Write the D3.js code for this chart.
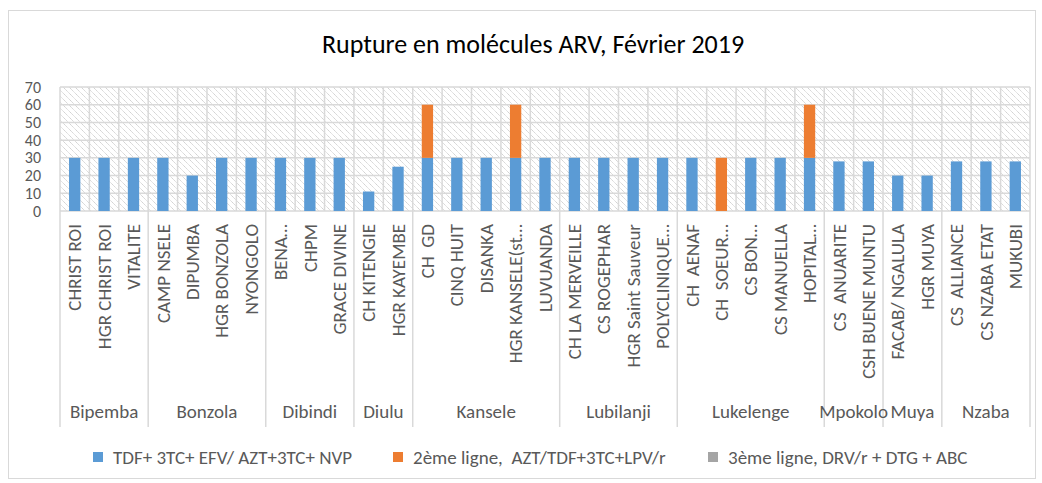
<!DOCTYPE html>
<html>
<head>
<meta charset="utf-8">
<script src="https://cdn.jsdelivr.net/npm/d3@7"></script>
<style>
  html, body { margin: 0; padding: 0; background: #fff; }
  svg { display: block; font-family: Carlito, Lato, "Liberation Sans", sans-serif; }
  svg text { white-space: pre; }
</style>
</head>
<body>
<svg id="chart" width="1042" height="483"></svg>
<script>
const title = "Rupture en molécules ARV, Février 2019";
const categories = [
  "CHRIST ROI", "HGR CHRIST ROI", "VITALITE",
  "CAMP NSELE", "DIPUMBA", "HGR BONZOLA", "NYONGOLO",
  "BENA…", "CHPM", "GRACE DIVINE",
  "CH KITENGIE", "HGR KAYEMBE",
  "CH  GD", "CINQ HUIT", "DISANKA", "HGR KANSELE(st…", "LUVUANDA",
  "CH LA MERVEILLE", "CS ROGEPHAR", "HGR Saint Sauveur", "POLYCLINIQUE…",
  "CH  AENAF", "CH  SOEUR…", "CS BON…", "CS MANUELLA", "HOPITAL…",
  "CS  ANUARITE", "CSH BUENE MUNTU",
  "FACAB/ NGALULA", "HGR MUYA",
  "CS  ALLIANCE", "CS NZABA ETAT", "MUKUBI"
];
const categoryGroups = [
  "Bipemba", "Bipemba", "Bipemba",
  "Bonzola", "Bonzola", "Bonzola", "Bonzola",
  "Dibindi", "Dibindi", "Dibindi",
  "Diulu", "Diulu",
  "Kansele", "Kansele", "Kansele", "Kansele", "Kansele",
  "Lubilanji", "Lubilanji", "Lubilanji", "Lubilanji",
  "Lukelenge", "Lukelenge", "Lukelenge", "Lukelenge", "Lukelenge",
  "Mpokolo", "Mpokolo",
  "Muya", "Muya",
  "Nzaba", "Nzaba", "Nzaba"
];
const seriesNames = [
  "TDF+ 3TC+ EFV/ AZT+3TC+ NVP",
  "2ème ligne,  AZT/TDF+3TC+LPV/r",
  "3ème ligne, DRV/r + DTG + ABC"
];
const firstLine = [30, 30, 30, 30, 20, 30, 30, 30, 30, 30, 11, 25, 30, 30, 30, 30, 30, 30, 30, 30, 30, 30, 0, 30, 30, 30, 28, 28, 20, 20, 28, 28, 28];
const secondLine = [0, 0, 0, 0, 0, 0, 0, 0, 0, 0, 0, 0, 30, 0, 0, 30, 0, 0, 0, 0, 0, 0, 30, 0, 0, 30, 0, 0, 0, 0, 0, 0, 0];
const thirdLine = [0, 0, 0, 0, 0, 0, 0, 0, 0, 0, 0, 0, 0, 0, 0, 0, 0, 0, 0, 0, 0, 0, 0, 0, 0, 0, 0, 0, 0, 0, 0, 0, 0];
const yTicks = [0, 10, 20, 30, 40, 50, 60, 70];
const colors = ["#5b9bd5", "#ed7d31", "#a5a5a5"];

const svg = d3.select("#chart");
const plot = { left: 60, right: 1030, top: 87, bottom: 211 };

// outer border
svg.append("rect").attr("x", 8.5).attr("y", 10.5).attr("width", 1027).attr("height", 468)
  .attr("fill", "#fff").attr("stroke", "#d9d9d9").attr("stroke-width", 1);

// title
svg.append("text").attr("x", 533).attr("y", 53).attr("text-anchor", "middle")
  .attr("font-size", 26).attr("fill", "#000").text(title);

// hatch pattern
const defs = svg.append("defs");
const pat = defs.append("pattern").attr("id", "hatch").attr("patternUnits", "userSpaceOnUse")
  .attr("width", 6).attr("height", 6);
pat.append("rect").attr("width", 6).attr("height", 6).attr("fill", "#fff");
pat.append("path").attr("d", "M-1,-1 L7,7 M-1,5 L1,7 M5,-1 L7,1")
  .attr("stroke", "#cccccc").attr("stroke-width", 1).attr("stroke-dasharray", "1.2,0.6");

const idx = categories.map((d, i) => i);
const x = d3.scaleBand().domain(idx).range([plot.left, plot.right]).paddingInner(0).paddingOuter(0);
const y = d3.scaleLinear().domain([0, 70]).range([plot.bottom, plot.top]);

svg.append("rect").attr("x", plot.left).attr("y", plot.top)
  .attr("width", plot.right - plot.left).attr("height", plot.bottom - plot.top)
  .attr("fill", "url(#hatch)");

// horizontal gridlines
svg.append("g").selectAll("line").data(yTicks).join("line")
  .attr("x1", plot.left).attr("x2", plot.right)
  .attr("y1", d => y(d)).attr("y2", d => y(d))
  .attr("stroke", "#d9d9d9").attr("stroke-width", 1.5);
// vertical gridlines (category boundaries)
const bounds = idx.map(i => x(i)).concat([plot.right]);
svg.append("g").selectAll("line").data(bounds).join("line")
  .attr("x1", d => d).attr("x2", d => d)
  .attr("y1", plot.top).attr("y2", plot.bottom)
  .attr("stroke", "#d9d9d9").attr("stroke-width", 1.5);

// y axis labels
const yAxis = d3.axisLeft(y).tickValues(yTicks).tickSize(0).tickPadding(0);
const ga = svg.append("g").attr("transform", `translate(${plot.left - 19},0)`).call(yAxis);
ga.select(".domain").remove();
ga.selectAll("text").attr("font-size", 16).attr("fill", "#595959")
  .attr("font-family", "Carlito, Lato, 'Liberation Sans', sans-serif");

// stacked bars
const rows = idx.map(i => ({ i, s0: firstLine[i], s1: secondLine[i], s2: thirdLine[i] }));
const stack = d3.stack().keys(["s0", "s1", "s2"]);
const layers = stack(rows);
const barRatio = 0.385;
const bw = x.bandwidth() * barRatio;
svg.append("g").selectAll("g").data(layers).join("g")
  .attr("fill", (d, k) => colors[k])
  .selectAll("rect").data(d => d.filter(p => p[1] - p[0] > 0)).join("rect")
  .attr("x", d => x(d.data.i) + (x.bandwidth() - bw) / 2)
  .attr("width", bw)
  .attr("y", d => y(d[1]))
  .attr("height", d => y(d[0]) - y(d[1]));

// category labels
svg.append("g").selectAll("text").data(idx).join("text")
  .attr("transform", i => `translate(${x(i) + x.bandwidth() / 2},224) rotate(-90)`)
  .attr("text-anchor", "end").attr("dy", "0.35em")
  .attr("font-size", 19).attr("fill", "#595959")
  .text(i => categories[i]);

// group separators and labels
const groupList = [];
categoryGroups.forEach((g, i) => {
  const last = groupList[groupList.length - 1];
  if (last && last.name === g) last.end = i; else groupList.push({ name: g, start: i, end: i });
});
const sepX = groupList.map(g => x(g.start)).concat([plot.right]);
svg.append("g").selectAll("line").data(sepX).join("line")
  .attr("x1", d => d).attr("x2", d => d).attr("y1", plot.bottom).attr("y2", 427)
  .attr("stroke", "#d9d9d9").attr("stroke-width", 1.5);
svg.append("g").selectAll("text").data(groupList).join("text")
  .attr("x", g => (x(g.start) + x(g.end) + x.bandwidth()) / 2)
  .attr("y", 418).attr("text-anchor", "middle")
  .attr("font-size", 19).attr("fill", "#595959")
  .text(g => g.name);

// legend
const legendX = [93, 393, 708];
const lg = svg.append("g").selectAll("g").data(seriesNames).join("g")
  .attr("transform", (d, k) => `translate(${legendX[k]},452)`);
lg.append("rect").attr("width", 10).attr("height", 10).attr("fill", (d, k) => colors[k]);
lg.append("text").attr("x", 20).attr("y", 5).attr("dy", "0.35em")
  .attr("font-size", 19).attr("fill", "#595959").text(d => d);
</script>
</body>
</html>
